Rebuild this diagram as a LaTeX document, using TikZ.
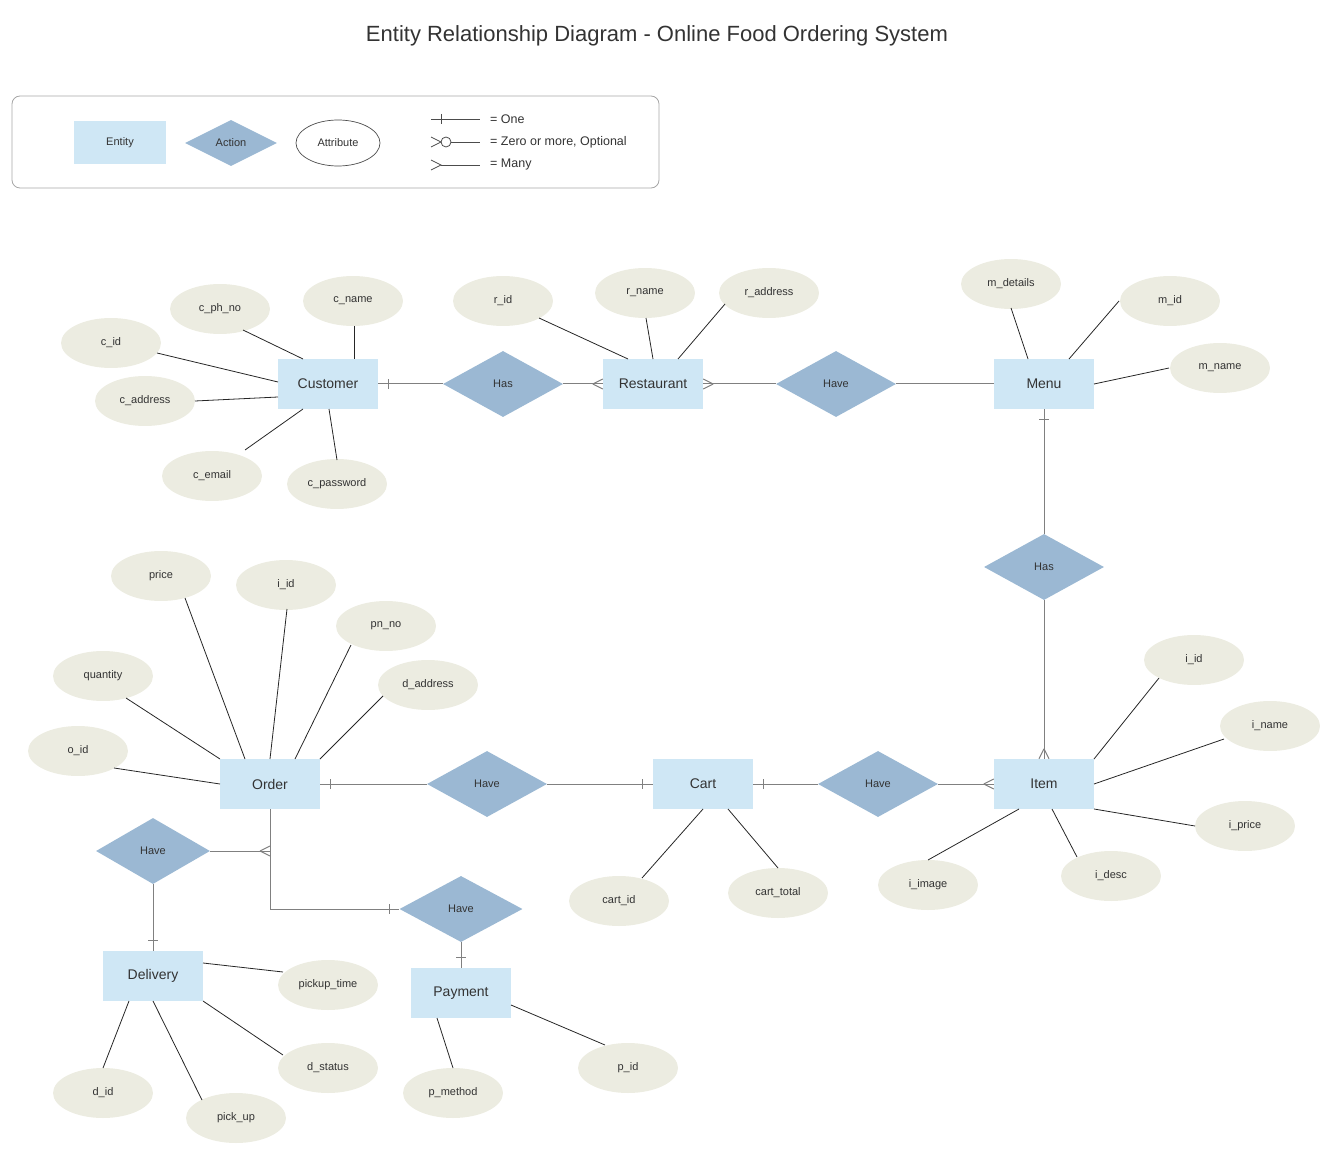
\documentclass[tikz,border=0pt]{standalone}
\usepackage{fontspec}
\setmainfont{Liberation Sans}
\usetikzlibrary{shapes.geometric,calc}
\definecolor{entc}{HTML}{CFE7F5}
\definecolor{actc}{HTML}{9BB8D3}
\definecolor{attc}{HTML}{ECECE1}
\definecolor{txtc}{HTML}{333333}
\definecolor{relc}{HTML}{808080}
\newcommand{\crowfoot}[3]{%
  \draw[rel] ($(#1)+({(#2)*10},{(#3)*10})$) -- ($(#1)+({(#3)*5},{(#2)*5})$)
             ($(#1)+({(#2)*10},{(#3)*10})$) -- ($(#1)+({-1*(#3)*5},{-1*(#2)*5})$);}
\newcommand{\tickmark}[3]{%
  \draw[rel] ($(#1)+({(#2)*10+(#3)*5},{(#3)*10+(#2)*5})$) -- ($(#1)+({(#2)*10-(#3)*5},{(#3)*10-(#2)*5})$);}
\newcommand{\attrlink}[3]{\draw[attrline] ($(#1)+(#2)$) -- ($(#3)$);}
\begin{document}
\begin{tikzpicture}[x=1pt,y=-1pt,
  entity/.style={rectangle,fill=entc,minimum width=100pt,minimum height=50pt,inner sep=0pt,font=\fontsize{14}{16}\selectfont,text=txtc},
  action/.style={diamond,fill=actc,minimum width=120pt,minimum height=66pt,inner sep=0pt,font=\fontsize{11}{13}\selectfont,text=txtc},
  attribute/.style={ellipse,fill=attc,minimum width=100pt,minimum height=50pt,inner sep=0pt,font=\fontsize{11}{13}\selectfont,text=txtc},
  attrline/.style={draw=black!85,line width=0.8pt},
  rel/.style={draw=relc,line width=1pt},
  legline/.style={draw=black!70,line width=0.8pt},
  legtext/.style={anchor=west,inner sep=0pt,font=\fontsize{12.5}{14}\selectfont,text=txtc},
]
\useasboundingbox (0,0) rectangle (1333,1155);

% title
\node[font=\fontsize{22}{26}\selectfont,text=txtc] (title) at (657,36) {Entity Relationship Diagram - Online Food Ordering System};

% legend
\draw[draw=black!35,line width=0.8pt,rounded corners=8pt] (12,96) rectangle (659,188);
\node[entity,minimum width=92pt,minimum height=43pt,font=\fontsize{11}{13}\selectfont] (legent) at (120,143) {Entity};
\node[action,minimum width=92pt,minimum height=46pt] (legact) at (231,143) {Action};
\node[ellipse,draw=black!70,line width=0.7pt,fill=white,minimum width=84pt,minimum height=46pt,inner sep=0pt,font=\fontsize{11}{13}\selectfont,text=txtc] (legatt) at (338,143) {Attribute};
\coordinate (l1a) at (431,119); \coordinate (l1b) at (480,119);
\draw[legline] (l1a) -- (l1b);
\draw[legline] (441,114) -- (441,124);
\node[legtext] (lt1) at (490,119) {= One};
\coordinate (l2a) at (431,142); \coordinate (l2b) at (480,142);
\draw[legline] (431,137) -- (441,142) -- (431,147);
\draw[legline] (446,142) circle (5);
\draw[legline] (451,142) -- (l2b);
\node[legtext] (lt2) at (490,142) {= Zero or more, Optional};
\coordinate (l3a) at (431,165); \coordinate (l3b) at (480,165);
\draw[legline] (431,160) -- (441,165) -- (431,170);
\draw[legline] (441,165) -- (l3b);
\node[legtext] (lt3) at (490,165) {= Many};

% entities
\node[entity] (cust) at (328,384) {Customer};
\node[entity] (rest) at (653,384) {Restaurant};
\node[entity] (menu) at (1044,384) {Menu};
\node[entity] (item) at (1044,784) {Item};
\node[entity] (cart) at (703,784) {Cart};
\node[entity] (order) at (270,784) {Order};
\node[entity] (deliv) at (153,976) {Delivery};
\node[entity] (pay) at (461,993) {Payment};

% actions
\node[action] (has1) at (503,384) {Has};
\node[action] (have1) at (836,384) {Have};
\node[action] (has2) at (1044,567) {Has};
\node[action] (have2) at (878,784) {Have};
\node[action] (have3) at (487,784) {Have};
\node[action,minimum width=114pt] (havedel) at (153,851) {Have};
\node[action,minimum width=123pt] (havepay) at (461,909) {Have};

% attributes
\node[attribute] (cid) at (111,343) {c\_id};
\node[attribute] (cph) at (220,309) {c\_ph\_no};
\node[attribute] (cname) at (353,301) {c\_name};
\node[attribute] (caddr) at (145,401) {c\_address};
\node[attribute] (cemail) at (212,476) {c\_email};
\node[attribute] (cpass) at (337,484) {c\_password};

\node[attribute] (rid) at (503,301) {r\_id};
\node[attribute] (rname) at (645,293) {r\_name};
\node[attribute] (raddr) at (769,293) {r\_address};

\node[attribute] (mdet) at (1011,284) {m\_details};
\node[attribute] (mid) at (1170,301) {m\_id};
\node[attribute] (mname) at (1220,368) {m\_name};

\node[attribute] (iid) at (1194,660) {i\_id};
\node[attribute] (iname) at (1270,726) {i\_name};
\node[attribute] (iprice) at (1245,826) {i\_price};
\node[attribute] (idesc) at (1111,876) {i\_desc};
\node[attribute] (iimage) at (928,885) {i\_image};

\node[attribute] (cartid) at (619,901) {cart\_id};
\node[attribute] (carttot) at (778,893) {cart\_total};

\node[attribute] (price) at (161,576) {price};
\node[attribute] (oiid) at (286,585) {i\_id};
\node[attribute] (pnno) at (386,626) {pn\_no};
\node[attribute] (qty) at (103,676) {quantity};
\node[attribute] (daddr) at (428,685) {d\_address};
\node[attribute] (oid) at (78,751) {o\_id};

\node[attribute] (ptime) at (328,985) {pickup\_time};
\node[attribute] (dstat) at (328,1068) {d\_status};
\node[attribute] (did) at (103,1093) {d\_id};
\node[attribute] (pickup) at (236,1118) {pick\_up};

\node[attribute] (pmeth) at (453,1093) {p\_method};
\node[attribute] (pid) at (628,1068) {p\_id};

% attribute lines
\attrlink{cid}{46,10}{cust)+(-50,-2}
\attrlink{cph}{23,21}{cust)+(-25,-25}
\attrlink{cname}{1,25}{cust)+(26,-25}
\attrlink{caddr}{50,0}{cust)+(-50,13}
\attrlink{cemail}{33,-26}{cust)+(-25,25}
\attrlink{cpass}{0,-24}{cust)+(1,25}

\attrlink{rid}{36,17}{rest)+(-25,-25}
\attrlink{rname}{1,25}{rest)+(0,-25}
\attrlink{raddr}{-44,11}{rest)+(25,-25}

\attrlink{mdet}{0,24}{menu)+(-16,-25}
\attrlink{mid}{-51,0}{menu)+(25,-25}
\attrlink{mname}{-51,0}{menu)+(50,0}

\attrlink{iid}{-35,18}{item)+(50,-25}
\attrlink{iname}{-46,13}{item)+(50,0}
\attrlink{iprice}{-50,0}{item)+(50,25}
\attrlink{idesc}{-34,-19}{item)+(8,25}
\attrlink{iimage}{0,-25}{item)+(-25,25}

\attrlink{cartid}{23,-23}{cart)+(0,25}
\attrlink{carttot}{0,-25}{cart)+(25,25}

\attrlink{price}{24,22}{order)+(-25,-25}
\attrlink{oiid}{1,24}{order)+(0,-25}
\attrlink{pnno}{-35,19}{order)+(25,-25}
\attrlink{qty}{23,22}{order)+(-50,-25}
\attrlink{daddr}{-45,11}{order)+(50,-25}
\attrlink{oid}{36,17}{order)+(-50,0}

\attrlink{ptime}{-45,-13}{deliv)+(50,-13}
\attrlink{dstat}{-45,-13}{deliv)+(50,25}
\attrlink{did}{0,-25}{deliv)+(-24,25}
\attrlink{pickup}{-34,-18}{deliv)+(0,25}

\attrlink{pmeth}{0,-25}{pay)+(-24,25}
\attrlink{pid}{-23,-23}{pay)+(50,12}

% relationships
\draw[rel] (cust.east) -- (has1.west);
\tickmark{cust.east}{1}{0}
\draw[rel] (has1.east) -- (rest.west);
\crowfoot{rest.west}{-1}{0}
\draw[rel] (rest.east) -- (have1.west);
\crowfoot{rest.east}{1}{0}
\draw[rel] (have1.east) -- (menu.west);
\draw[rel] (menu.south) -- (has2.north);
\tickmark{menu.south}{0}{1}
\draw[rel] (has2.south) -- (item.north);
\crowfoot{item.north}{0}{-1}
\draw[rel] (cart.east) -- (have2.west);
\tickmark{cart.east}{1}{0}
\draw[rel] (have2.east) -- (item.west);
\crowfoot{item.west}{-1}{0}
\draw[rel] (order.east) -- (have3.west);
\tickmark{order.east}{1}{0}
\draw[rel] (have3.east) -- (cart.west);
\tickmark{cart.west}{-1}{0}
\draw[rel] (order.south) |- (havepay.west);
\tickmark{havepay.west}{-1}{0}
\coordinate (jn) at (order.south |- havedel.east);
\draw[rel] (havedel.east) -- (jn);
\crowfoot{jn}{-1}{0}
\draw[rel] (havedel.south) -- (deliv.north);
\tickmark{deliv.north}{0}{-1}
\draw[rel] (havepay.south) -- (pay.north);
\tickmark{pay.north}{0}{-1}
\end{tikzpicture}
\end{document}
